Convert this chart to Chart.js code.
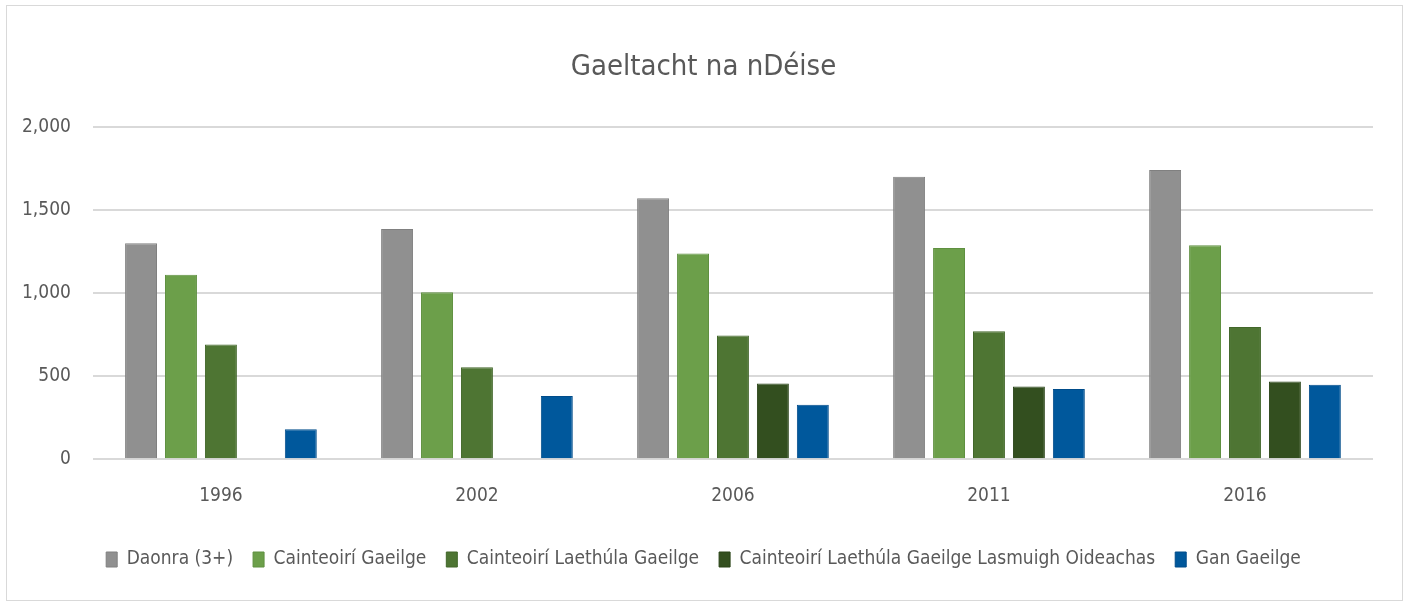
<!DOCTYPE html>
<html>
<head>
<meta charset="utf-8">
<script src="https://cdn.jsdelivr.net/npm/chart.js@4.4.1/dist/chart.umd.min.js"></script>
<style>
  body { margin: 0; background: #fff; }
  #frame { position: absolute; left: 6px; top: 5px; width: 1397px; height: 596px; border: 1px solid #d9d9d9; box-sizing: border-box; }
  #gaeltachtChart { position: absolute; left: 0; top: 0; }
</style>
</head>
<body>
<div id="frame"></div>
<canvas id="gaeltachtChart" width="1407" height="605"></canvas>
<script>
const years = ['1996', '2002', '2006', '2011', '2016'];
const daonra = [1300, 1385, 1570, 1700, 1740];
const cainteoiri = [1110, 1005, 1238, 1271, 1287];
const laethula = [690, 553, 744, 770, 796];
const lasmuigh = [null, null, 456, 438, 467];
const ganGaeilge = [180, 380, 327, 422, 448];
const yTicks = [0, 500, 1000, 1500, 2000];

const FONT = "'Liberation Sans Narrow', 'DejaVu Sans Condensed', sans-serif";
Chart.defaults.color = '#595959';
Chart.defaults.font.family = FONT;

function series(label, data, fill, edge) {
    return {
        label: label,
        data: data,
        backgroundColor: fill,
        borderColor: edge,
        borderWidth: 1,
        categoryPercentage: 0.78,
        barPercentage: 0.8
    };
}

// title and legend are centred on the whole picture, not on the padded box
const centerShift = {
    id: 'centerShift',
    afterLayout(chart) {
        [chart.titleBlock, chart.legend].forEach(b => { b.left += 17; b.right += 17; });
    }
};

const ctx = document.getElementById('gaeltachtChart').getContext('2d');
new Chart(ctx, {
    type: 'bar',
    data: {
        labels: years,
        datasets: [
            series('Daonra (3+)', daonra, '#909090', '#808080'),
            series('Cainteoirí Gaeilge', cainteoiri, '#6c9f4a', '#5f9040'),
            series('Cainteoirí Laethúla Gaeilge', laethula, '#4e7533', '#42672a'),
            series('Cainteoirí Laethúla Gaeilge Lasmuigh Oideachas', lasmuigh, '#334f1f', '#2a4418'),
            series('Gan Gaeilge', ganGaeilge, '#00589c', '#004c8a')
        ]
    },
    options: {
        responsive: false,
        animation: false,
        layout: { padding: { left: 0, right: 34, top: 50, bottom: 26 } },
        plugins: {
            title: {
                display: true,
                text: 'Gaeltacht na nDéise',
                font: { size: 29, weight: 'normal' },
                padding: { top: 0, bottom: 42 }
            },
            legend: {
                position: 'bottom',
                labels: {
                    boxWidth: 11,
                    boxHeight: 15,
                    padding: 20,
                    font: { size: 19 }
                }
            },
            tooltip: { enabled: false }
        },
        scales: {
            x: {
                grid: { display: false },
                border: { display: false },
                ticks: { font: { size: 19 }, padding: 17 },
                afterFit: axis => { axis.height += 6; }
            },
            y: {
                min: 0,
                max: 2000,
                afterBuildTicks: axis => { axis.ticks = yTicks.map(v => ({ value: v })); },
                grid: { color: '#d9d9d9', lineWidth: 2, drawTicks: false },
                border: { display: false },
                ticks: {
                    font: { size: 19 },
                    padding: 22,
                    callback: v => v.toLocaleString('en-US')
                }
            }
        }
    },
    plugins: [centerShift]
});
</script>
</body>
</html>
